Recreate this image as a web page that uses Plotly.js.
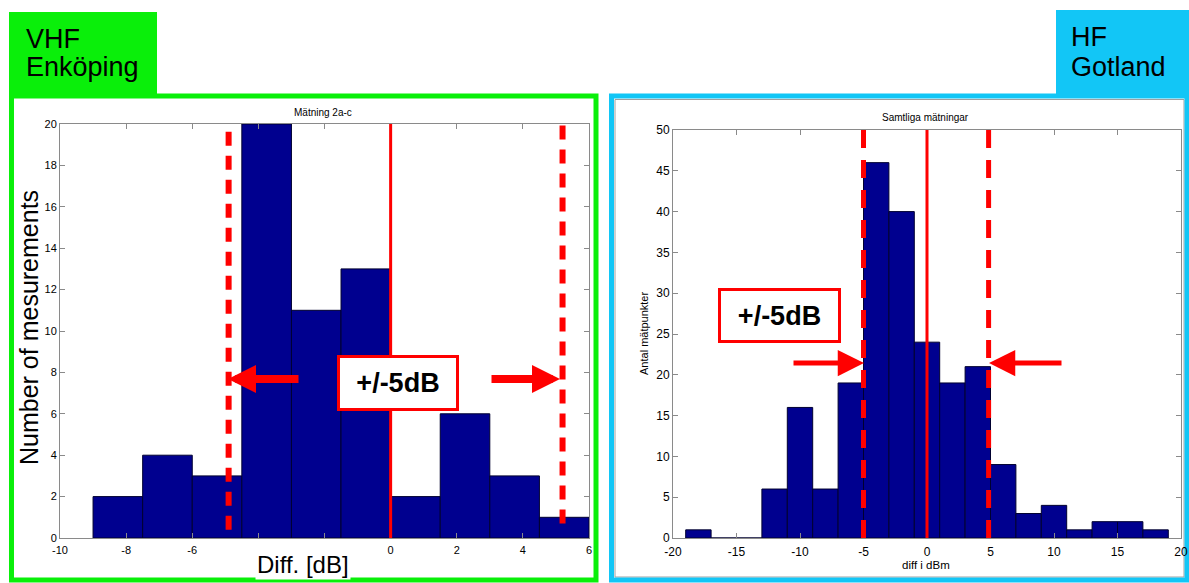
<!DOCTYPE html>
<html>
<head>
<meta charset="utf-8">
<script src="https://cdn.plot.ly/plotly-3.0.1.min.js"></script>
<style>html,body{margin:0;padding:0;background:#fff;}#chart{width:1189px;height:583px;}</style>
</head>
<body>
<div id="chart"></div>
<script>
// ---------- data ----------
// Left panel: VHF Enköping, "Mätning 2a-c" (bin width 1.5 dB)
const vhfBinCenters = [-8.25, -6.75, -5.25, -3.75, -2.25, -0.75, 0.75, 2.25, 3.75, 5.25];
const vhfCounts     = [2, 4, 3, 20, 11, 13, 2, 6, 3, 1];
const vhfBinWidth   = 1.5;
const vhfTickVals   = [-10, -8, -6, -4, -2, 0, 2, 4, 6];
// -4 and -2 are hidden behind the "Diff. [dB]" label in the original
const vhfTickText   = ['-10', '-8', '-6', '', '', '0', '2', '4', '6'];
const vhfYTicks     = [0, 2, 4, 6, 8, 10, 12, 14, 16, 18, 20];
const vhfLimits     = [-4.9, 5.2];   // hand-drawn ±5 dB markers

// Right panel: HF Gotland, "Samtliga mätningar" (bin width 2 dB)
const hfBinCenters = [-18, -16, -14, -12, -10, -8, -6, -4, -2, 0, 2, 4, 6, 8, 10, 12, 14, 16, 18];
const hfCounts     = [1, 0, 0, 6, 16, 6, 19, 46, 40, 24, 19, 21, 9, 3, 4, 1, 2, 2, 1];
const hfBinWidth   = 2;
const hfTickVals   = [-20, -15, -10, -5, 0, 5, 10, 15, 20];
const hfTickText   = ['-20', '-15', '-10', '-5', '0', '5', '10', '15', '20'];
const hfYTicks     = [0, 5, 10, 15, 20, 25, 30, 35, 40, 45, 50];
const hfLimits     = [-5, 4.85];

// ---------- layout helpers ----------
const W = 1189, H = 583;
const px = x => x / W;
const py = y => 1 - y / H;
const FONT = 'Liberation Sans, Arial, sans-serif';
const BAR = '#00008f';
const RED = '#ff0000';
const GREEN = '#0aef0a';
const CYAN = '#12c6f6';

const traces = [
  {
    type: 'bar', x: vhfBinCenters, y: vhfCounts, width: vhfBinWidth,
    marker: {color: BAR, line: {color: '#000030', width: 1}},
    xaxis: 'x', yaxis: 'y', hoverinfo: 'x+y', showlegend: false
  },
  {
    type: 'bar', x: hfBinCenters, y: hfCounts, width: hfBinWidth,
    marker: {color: BAR, line: {color: '#000030', width: 1}},
    xaxis: 'x2', yaxis: 'y2', hoverinfo: 'x+y', showlegend: false
  }
];

const axisCommon = {
  showgrid: false, zeroline: false, showline: true, mirror: 'ticks',
  linecolor: '#8a8a8a', linewidth: 1, ticks: 'inside', ticklen: 5,
  tickcolor: '#8a8a8a', tickfont: {family: FONT, color: '#000'}
};

const layout = {
  width: W, height: H,
  margin: {l: 0, r: 0, t: 0, b: 0},
  paper_bgcolor: '#fff', plot_bgcolor: '#fff',
  bargap: 0, showlegend: false,
  xaxis: Object.assign({}, axisCommon, {
    domain: [px(60), px(589)], range: [-10, 6], anchor: 'y',
    tickmode: 'array', tickvals: vhfTickVals, ticktext: vhfTickText,
    ticklabelstandoff: 2,
    tickfont: {family: FONT, size: 11, color: '#000'}
  }),
  yaxis: Object.assign({}, axisCommon, {
    domain: [py(538), py(124)], range: [0, 20], anchor: 'x',
    tickmode: 'array', tickvals: vhfYTicks,
    tickfont: {family: FONT, size: 11, color: '#000'}
  }),
  xaxis2: Object.assign({}, axisCommon, {
    domain: [px(673), px(1181)], range: [-20, 20], anchor: 'y2',
    tickmode: 'array', tickvals: hfTickVals, ticktext: hfTickText,
    ticklabelstandoff: 3,
    tickfont: {family: FONT, size: 12, color: '#000'}
  }),
  yaxis2: Object.assign({}, axisCommon, {
    domain: [py(538), py(130)], range: [0, 50], anchor: 'x2',
    tickmode: 'array', tickvals: hfYTicks,
    tickfont: {family: FONT, size: 12, color: '#000'}
  }),
  shapes: [
    // panel frames
    {type: 'rect', xref: 'paper', yref: 'paper', x0: px(11.5), x1: px(596), y0: py(580), y1: py(96),
     line: {color: GREEN, width: 5}, layer: 'below'},
    {type: 'rect', xref: 'paper', yref: 'paper', x0: px(615), x1: px(1184), y0: py(577), y1: py(99.5),
     line: {color: '#a0a0a0', width: 1}, layer: 'below'},
    {type: 'rect', xref: 'paper', yref: 'paper', x0: px(611.5), x1: px(1187), y0: py(580), y1: py(96),
     line: {color: CYAN, width: 5}, layer: 'below'},
    // label boxes
    {type: 'rect', xref: 'paper', yref: 'paper', x0: px(9), x1: px(157), y0: py(96), y1: py(12),
     fillcolor: GREEN, line: {width: 0}, layer: 'below'},
    {type: 'rect', xref: 'paper', yref: 'paper', x0: px(1056), x1: px(1189), y0: py(96), y1: py(10),
     fillcolor: CYAN, line: {width: 0}, layer: 'below'},
    // left chart markers
    {type: 'line', xref: 'x', yref: 'y', x0: 0, x1: 0, y0: 0, y1: 20, line: {color: RED, width: 3}},
    {type: 'line', xref: 'x', yref: 'y', x0: vhfLimits[0], x1: vhfLimits[0], y0: 0.4, y1: 20,
     line: {color: RED, width: 6, dash: '14px,10px'}},
    {type: 'line', xref: 'x', yref: 'y', x0: vhfLimits[1], x1: vhfLimits[1], y0: 0.7, y1: 20,
     line: {color: RED, width: 6, dash: '14px,10px'}},
    // right chart markers
    {type: 'line', xref: 'x2', yref: 'y2', x0: 0, x1: 0, y0: 0, y1: 50, line: {color: RED, width: 3}},
    {type: 'line', xref: 'x2', yref: 'y2', x0: hfLimits[0], x1: hfLimits[0], y0: 0, y1: 50,
     line: {color: RED, width: 5, dash: '18px,12px'}},
    {type: 'line', xref: 'x2', yref: 'y2', x0: hfLimits[1], x1: hfLimits[1], y0: 0, y1: 50,
     line: {color: RED, width: 5, dash: '18px,12px'}}
  ],
  annotations: [
    // panel labels
    {xref: 'paper', yref: 'paper', x: px(24), y: py(39), xanchor: 'left', yanchor: 'middle', showarrow: false,
     text: 'VHF', font: {family: FONT, size: 27, color: '#000'}},
    {xref: 'paper', yref: 'paper', x: px(24), y: py(67), xanchor: 'left', yanchor: 'middle', showarrow: false,
     text: 'Enköping', font: {family: FONT, size: 27, color: '#000'}},
    {xref: 'paper', yref: 'paper', x: px(1069), y: py(37), xanchor: 'left', yanchor: 'middle', showarrow: false,
     text: 'HF', font: {family: FONT, size: 27, color: '#000'}},
    {xref: 'paper', yref: 'paper', x: px(1069), y: py(67), xanchor: 'left', yanchor: 'middle', showarrow: false,
     text: 'Gotland', font: {family: FONT, size: 27, color: '#000'}},
    // chart titles
    {xref: 'paper', yref: 'paper', x: px(323), y: py(112), xanchor: 'center', yanchor: 'middle', showarrow: false,
     text: 'Mätning 2a-c', font: {family: FONT, size: 10, color: '#000'}},
    {xref: 'paper', yref: 'paper', x: px(926), y: py(117), xanchor: 'center', yanchor: 'middle', showarrow: false,
     text: 'Samtliga mätningar', font: {family: FONT, size: 10, color: '#000'}},
    // axis titles
    {xref: 'paper', yref: 'paper', x: px(29), y: py(328), xanchor: 'center', yanchor: 'middle', showarrow: false,
     textangle: -90, text: 'Number of mesurements', font: {family: FONT, size: 25, color: '#000'}},
    {xref: 'paper', yref: 'paper', x: px(303), y: py(564), xanchor: 'center', yanchor: 'middle', showarrow: false,
     bgcolor: '#fff', text: 'Diff. [dB]', font: {family: FONT, size: 24, color: '#000'}},
    {xref: 'paper', yref: 'paper', x: px(644), y: py(333), xanchor: 'center', yanchor: 'middle', showarrow: false,
     textangle: -90, text: 'Antal mätpunkter', font: {family: FONT, size: 11, color: '#000'}},
    {xref: 'paper', yref: 'paper', x: px(926), y: py(565), xanchor: 'center', yanchor: 'middle', showarrow: false,
     text: 'diff i dBm', font: {family: FONT, size: 11.5, color: '#000'}},
    // ±5 dB boxes
    {xref: 'paper', yref: 'paper', x: px(398), y: py(383), xanchor: 'center', yanchor: 'middle', showarrow: false,
     text: '<b>+/-5dB</b>', font: {family: FONT, size: 27, color: '#000'},
     bgcolor: '#fff', bordercolor: RED, borderwidth: 3, borderpad: 0, width: 116, height: 50},
    {xref: 'paper', yref: 'paper', x: px(779.5), y: py(315.5), xanchor: 'center', yanchor: 'middle', showarrow: false,
     text: '<b>+/-5dB</b>', font: {family: FONT, size: 27, color: '#000'},
     bgcolor: '#fff', bordercolor: RED, borderwidth: 3, borderpad: 0, width: 117, height: 49},
    // arrows (left chart)
    {xref: 'paper', yref: 'paper', x: px(228), y: py(379), ax: 72, ay: 0, text: '', showarrow: true,
     arrowhead: 2, arrowsize: 0.7, arrowwidth: 8, arrowcolor: RED, standoff: 0},
    {xref: 'paper', yref: 'paper', x: px(560), y: py(379), ax: -70, ay: 0, text: '', showarrow: true,
     arrowhead: 2, arrowsize: 0.7, arrowwidth: 8, arrowcolor: RED, standoff: 0},
    // arrows (right chart)
    {xref: 'paper', yref: 'paper', x: px(864), y: py(363), ax: -72, ay: 0, text: '', showarrow: true,
     arrowhead: 2, arrowsize: 1.05, arrowwidth: 5, arrowcolor: RED, standoff: 0},
    {xref: 'paper', yref: 'paper', x: px(989), y: py(363), ax: 74, ay: 0, text: '', showarrow: true,
     arrowhead: 2, arrowsize: 1.05, arrowwidth: 5, arrowcolor: RED, standoff: 0}
  ]
};

Plotly.newPlot('chart', traces, layout, {displayModeBar: false, staticPlot: true});
</script>
</body>
</html>
